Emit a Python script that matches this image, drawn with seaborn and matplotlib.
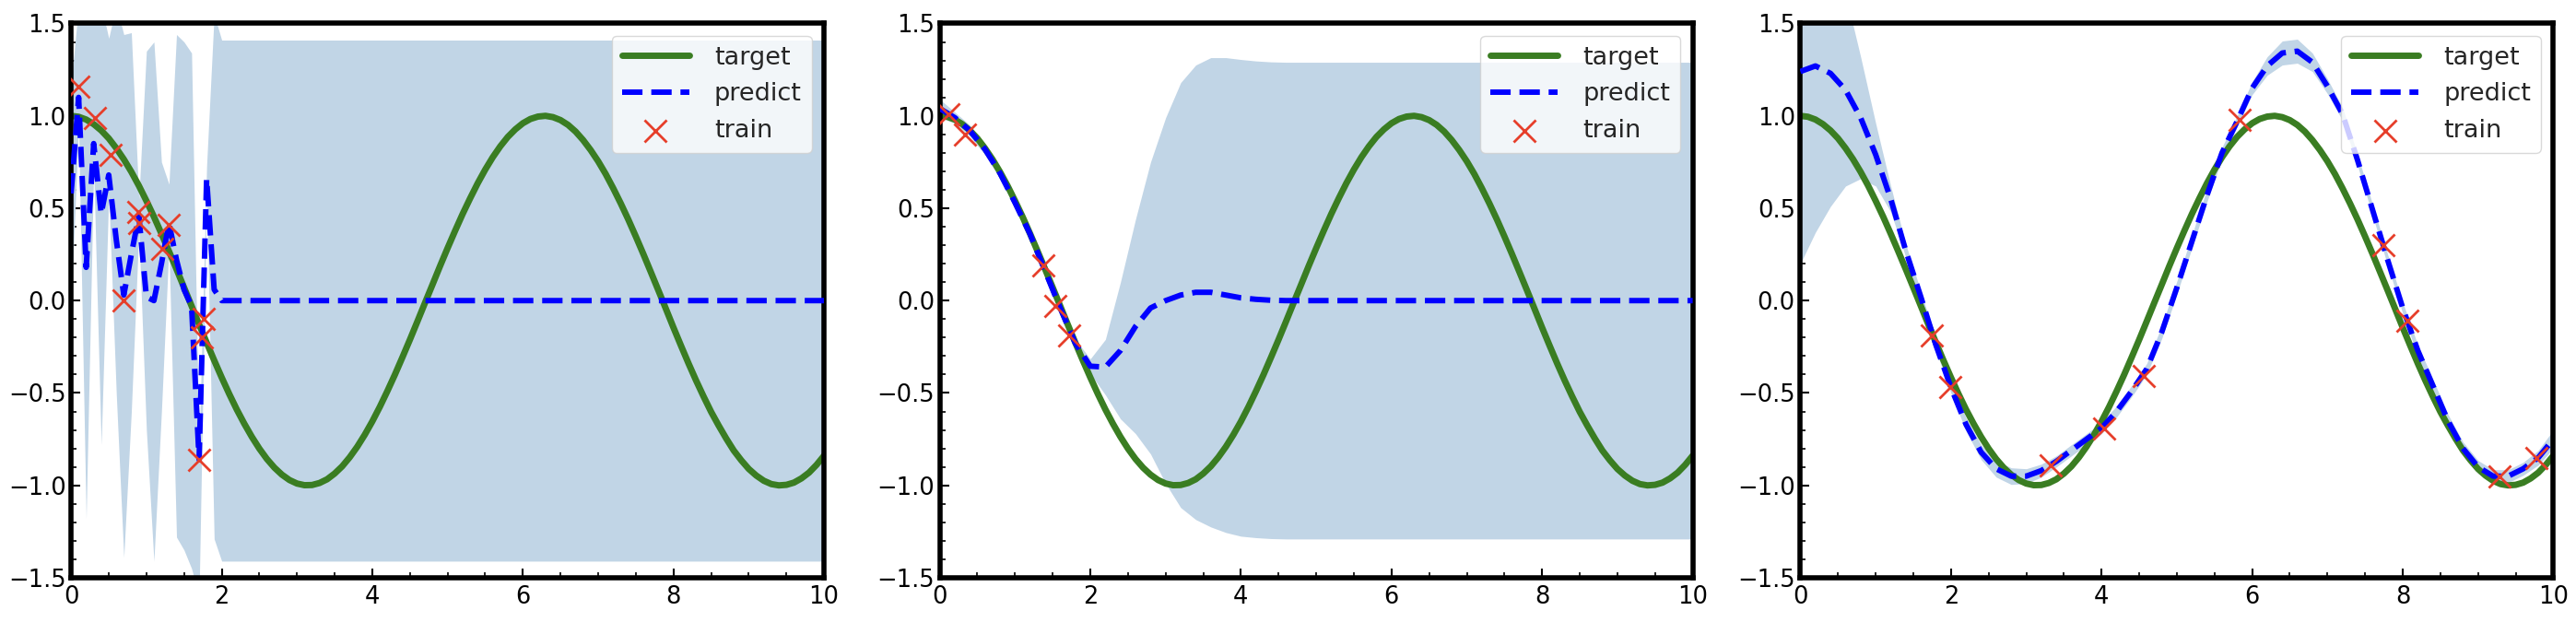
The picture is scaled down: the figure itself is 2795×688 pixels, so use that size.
import numpy as np
import matplotlib
matplotlib.use("Agg")
import matplotlib.pyplot as plt
import seaborn as sns
from matplotlib.ticker import MultipleLocator

# -----------------------------
# data
# -----------------------------
# target curve, sampled every 0.1
grid_fine = [round(0.1 * i, 1) for i in range(101)]
target = [1.000, 0.995, 0.980, 0.955, 0.921, 0.878, 0.825, 0.765, 0.697, 0.622,
          0.540, 0.454, 0.362, 0.267, 0.170, 0.071, -0.029, -0.129, -0.227, -0.323,
          -0.416, -0.505, -0.589, -0.666, -0.737, -0.801, -0.857, -0.904, -0.942, -0.971,
          -0.990, -0.999, -0.998, -0.987, -0.967, -0.936, -0.897, -0.848, -0.791, -0.726,
          -0.654, -0.575, -0.490, -0.401, -0.307, -0.211, -0.112, -0.012, 0.087, 0.187,
          0.284, 0.378, 0.469, 0.554, 0.635, 0.709, 0.776, 0.835, 0.886, 0.927,
          0.960, 0.983, 0.996, 1.000, 0.993, 0.977, 0.951, 0.915, 0.869, 0.815,
          0.754, 0.685, 0.608, 0.526, 0.439, 0.347, 0.252, 0.154, 0.055, -0.045,
          -0.146, -0.244, -0.340, -0.432, -0.519, -0.602, -0.676, -0.746, -0.811, -0.864,
          -0.911, -0.947, -0.975, -0.993, -1.000, -0.997, -0.985, -0.962, -0.931, -0.889,
          -0.839]

# prediction grid for panels 2 and 3, every 0.2
grid = [0.0, 0.2, 0.4, 0.6, 0.8, 1.0, 1.2, 1.4, 1.6, 1.8,
        2.0, 2.2, 2.4, 2.6, 2.8, 3.0, 3.2, 3.4, 3.6, 3.8,
        4.0, 4.2, 4.4, 4.6, 4.8, 5.0, 5.2, 5.4, 5.6, 5.8,
        6.0, 6.2, 6.4, 6.6, 6.8, 7.0, 7.2, 7.4, 7.6, 7.8,
        8.0, 8.2, 8.4, 8.6, 8.8, 9.0, 9.2, 9.4, 9.6, 9.8, 10.0]

# panel 1: short length scale, coarse prediction grid
x_fit1 = [0.0, 0.1, 0.2, 0.3, 0.4, 0.5, 0.6, 0.7, 0.8, 0.9, 1.0,
          1.1, 1.2, 1.3, 1.4, 1.5, 1.6, 1.7, 1.8, 1.9, 2.0, 2.1, 10.0]
pred1 = [0.58, 1.10, 0.18, 0.85, 0.47, 0.68, 0.33, 0.03, 0.25, 0.46, 0.02,
         0.00, 0.20, 0.42, 0.22, 0.06, -0.03, -0.86, 0.66, 0.06, 0.0, 0.0, 0.0]
low1 = [-0.02, 0.95, -1.18, 0.72, -0.78, 0.58, -0.50, -1.39, -0.60, 0.38, -0.70,
        -1.41, -0.60, 0.30, -1.28, -1.35, -1.45, -1.60, 0.60, -1.29, -1.41, -1.41, -1.41]
up1 = [1.17, 1.60, 1.60, 1.60, 1.60, 1.42, 1.60, 1.44, 1.45, 0.55, 1.35,
       1.40, 0.75, 0.63, 1.44, 1.40, 1.34, -0.80, 0.73, 1.55, 1.41, 1.41, 1.41]
train1_x = [0.10, 0.32, 0.52, 0.70, 0.89, 0.90, 1.21, 1.29, 1.70, 1.74, 1.76]
train1_y = [1.16, 0.99, 0.79, 0.00, 0.48, 0.42, 0.28, 0.41, -0.86, -0.20, -0.10]

# panel 2: training points only on the left
pred2 = [1.04, 0.99, 0.92, 0.82, 0.69, 0.53, 0.36, 0.16, -0.04, -0.23,
         -0.355, -0.36, -0.27, -0.14, -0.04, 0.0, 0.03, 0.045, 0.045, 0.03,
         0.015, 0.007, 0.002, 0.0, 0.0, 0.0, 0.0, 0.0, 0.0, 0.0,
         0.0, 0.0, 0.0, 0.0, 0.0, 0.0, 0.0, 0.0, 0.0, 0.0,
         0.0, 0.0, 0.0, 0.0, 0.0, 0.0, 0.0, 0.0, 0.0, 0.0, 0.0]
band2 = [0.05, 0.03, 0.03, 0.03, 0.03, 0.03, 0.025, 0.02, 0.02, 0.02,
         0.04, 0.15, 0.37, 0.58, 0.79, 0.99, 1.15, 1.23, 1.27, 1.285,
         1.29, 1.29, 1.29, 1.29, 1.29, 1.29, 1.29, 1.29, 1.29, 1.29,
         1.29, 1.29, 1.29, 1.29, 1.29, 1.29, 1.29, 1.29, 1.29, 1.29,
         1.29, 1.29, 1.29, 1.29, 1.29, 1.29, 1.29, 1.29, 1.29, 1.29, 1.29]
train2_x = [0.11, 0.33, 1.37, 1.54, 1.72]
train2_y = [1.01, 0.90, 0.19, -0.03, -0.19]

# panel 3: training points spread over the range
pred3 = [1.24, 1.27, 1.23, 1.14, 0.99, 0.79, 0.55, 0.27, 0.02, -0.24,
         -0.47, -0.67, -0.82, -0.91, -0.95, -0.95, -0.92, -0.87, -0.81, -0.75,
         -0.69, -0.60, -0.49, -0.37, -0.17, 0.07, 0.32, 0.57, 0.80, 0.97,
         1.15, 1.27, 1.34, 1.35, 1.29, 1.16, 1.01, 0.76, 0.49, 0.22,
         -0.04, -0.27, -0.46, -0.65, -0.80, -0.90, -0.95, -0.95, -0.91, -0.85, -0.75]
band3 = [1.04, 0.90, 0.72, 0.52, 0.33, 0.17, 0.07, 0.035, 0.03, 0.03,
         0.03, 0.035, 0.04, 0.045, 0.045, 0.04, 0.035, 0.03, 0.03, 0.03,
         0.03, 0.03, 0.03, 0.03, 0.035, 0.035, 0.035, 0.035, 0.03, 0.03,
         0.035, 0.05, 0.065, 0.065, 0.05, 0.04, 0.035, 0.03, 0.03, 0.03,
         0.03, 0.03, 0.035, 0.035, 0.035, 0.035, 0.035, 0.035, 0.035, 0.04, 0.05]
train3_x = [1.75, 1.99, 3.32, 4.03, 4.56, 5.83, 7.74, 8.06, 9.28, 9.77]
train3_y = [-0.19, -0.47, -0.89, -0.69, -0.41, 0.98, 0.30, -0.11, -0.95, -0.85]

# -----------------------------
# style
# -----------------------------
sns.set_theme(style="ticks")
plt.rcParams["font.family"] = ["DejaVu Sans"]

GREEN = "#3a7d22"
BLUE = "#0000ff"
RED = "#e63e2a"
BAND = "#c1d5e6"

panels = [
    (x_fit1, pred1, low1, up1, train1_x, train1_y),
    (grid, pred2,
     [p - b for p, b in zip(pred2, band2)], [p + b for p, b in zip(pred2, band2)],
     train2_x, train2_y),
    (grid, pred3,
     [p - b for p, b in zip(pred3, band3)], [p + b for p, b in zip(pred3, band3)],
     train3_x, train3_y),
]

fig = plt.figure(figsize=(27.95, 6.88), dpi=100)
lefts = [0.0276, 0.3648, 0.6989]

for left, (xf, pred, lo, hi, tx, ty) in zip(lefts, panels):
    ax = fig.add_axes([left, 0.0887, 0.2923, 0.8743])
    ax.fill_between(xf, lo, hi, color=BAND, lw=0, zorder=1)
    sns.lineplot(x=grid_fine, y=target, ax=ax, color=GREEN, lw=5, label="target", zorder=2)
    sns.lineplot(x=xf, y=pred, ax=ax, color=BLUE, lw=4.3, linestyle="--",
                 label="predict", zorder=3)
    sns.scatterplot(x=tx, y=ty, ax=ax, marker="x", color=RED, s=300, linewidth=2,
                    label="train", zorder=4)

    ax.set_xlim(0, 10)
    ax.set_ylim(-1.5, 1.5)
    ax.set_xticks([0, 2, 4, 6, 8, 10])
    ax.set_yticks([-1.5, -1.0, -0.5, 0.0, 0.5, 1.0, 1.5])
    ax.xaxis.set_minor_locator(MultipleLocator(0.5))
    ax.yaxis.set_minor_locator(MultipleLocator(0.1))
    ax.tick_params(which="both", direction="in", top=False, right=False,
                   colors="black", labelsize=18.5)
    ax.tick_params(which="major", length=7, width=1.5)
    ax.tick_params(which="minor", length=4, width=1.2)
    ax.tick_params(axis="x", pad=6)
    ax.tick_params(axis="y", pad=4)
    for sp in ax.spines.values():
        sp.set_visible(True)
        sp.set_linewidth(4)
        sp.set_color("black")
    ax.set_xlabel("")
    ax.set_ylabel("")
    ax.legend(loc="upper right", fontsize=19.5, handlelength=2.7, handletextpad=1.0,
              framealpha=0.8, edgecolor="#d0d0d0", fancybox=True)

fig.savefig("out.png", dpi=100)
